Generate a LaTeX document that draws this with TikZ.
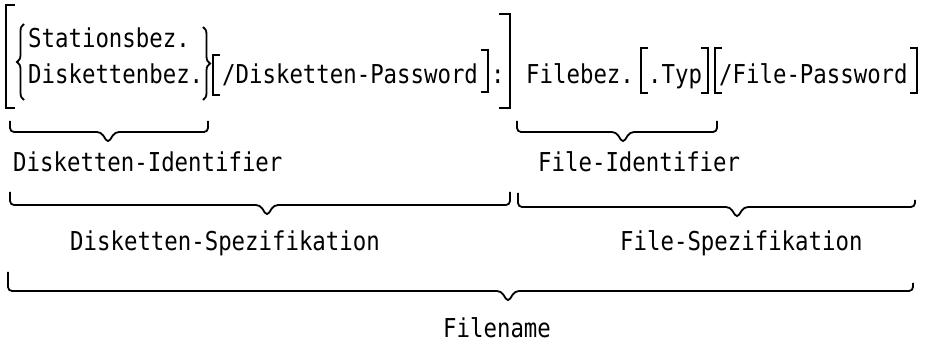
\documentclass[tikz,border=0pt]{standalone}
\usepackage{fontspec}
\newfontfamily\typefont[FakeStretch=0.86]{DejaVu Sans Mono}
\usepackage{tikz}
\usetikzlibrary{calc,decorations.pathreplacing,positioning}

\begin{document}
\begin{tikzpicture}[
  x=1pt, y=-1pt,
  txt/.style={
    inner sep=0pt,
    anchor=base west,
    font=\typefont\fontsize{26}{30}\selectfont
    },
  brk/.style={line width=2pt},
  ubr/.style={line width=1.8pt, rounded corners=4pt},
  cbr/.style={line width=1.8pt, decorate, decoration={brace, amplitude=7pt}}
]
\useasboundingbox (0,0) rectangle (925,344);

% first line
\node[txt] (stat)   at (28,48)  {Stationsbez.};
\node[txt] (disk)   at (28,84)  {Diskettenbez.};
\node[txt] (dpw)    at (222,84) {/Disketten-Password};
\node[txt] (colon)  at (491,84) {:};
\node[txt] (fbez)   at (526,84) {Filebez.};
\node[txt] (typ)    at (648,84) {.Typ};
\node[txt] (fpw)    at (719,84) {/File-Password};

% brackets
\draw[brk] (15,5) -| (6,108) -- (15,108);
\draw[cbr] (24,100) -- (24,24);
\draw[cbr] (203,27) -- (203,100);
\draw[brk] (220,55) -| (213,95) -- (220,95);
\draw[brk] (481,50) -| (488,92) -- (481,92);
\draw[brk] (499,14) -| (510,108) -- (499,108);
\draw[brk] (648,48) -| (641,93) -- (648,93);
\draw[brk] (701,48) -| (708,93) -- (701,93);
\draw[brk] (722,48) -| (715,93) -- (722,93);
\draw[brk] (910,48) -| (917,93) -- (910,93);

% labels
\node[txt] (dident) at (13,172)  {Disketten-Identifier};
\node[txt] (fident) at (538,172) {File-Identifier};
\node[txt] (dspez)  at (70,251)  {Disketten-Spezifikation};
\node[txt] (fspez)  at (620,251) {File-Spezifikation};
\node[txt] (fname)  at (443,337) {Filename};

% under-braces
\coordinate (diL) at (10,121);  \coordinate (diR) at (208,121); \coordinate (diT) at (108,143);
\coordinate (fiL) at (517,121); \coordinate (fiR) at (717,121); \coordinate (fiT) at (623,143);
\coordinate (dsL) at (10,192);  \coordinate (dsR) at (510,192); \coordinate (dsT) at (267,216);
\coordinate (fsL) at (518,193); \coordinate (fsR) at (915,200); \coordinate (fsT) at (737,218);
\coordinate (fnL) at (8,272);   \coordinate (fnR) at (913,283); \coordinate (fnT) at (508,302);

\foreach \l/\r/\t in {diL/diR/diT, fiL/fiR/fiT, dsL/dsR/dsT, fsL/fsR/fsT, fnL/fnR/fnT}
  \draw[ubr] (\l) |- ([shift={(-7pt,11pt)}]\t) -- (\t) -- ([shift={(7pt,11pt)}]\t) -| (\r);
\end{tikzpicture}
\end{document}
